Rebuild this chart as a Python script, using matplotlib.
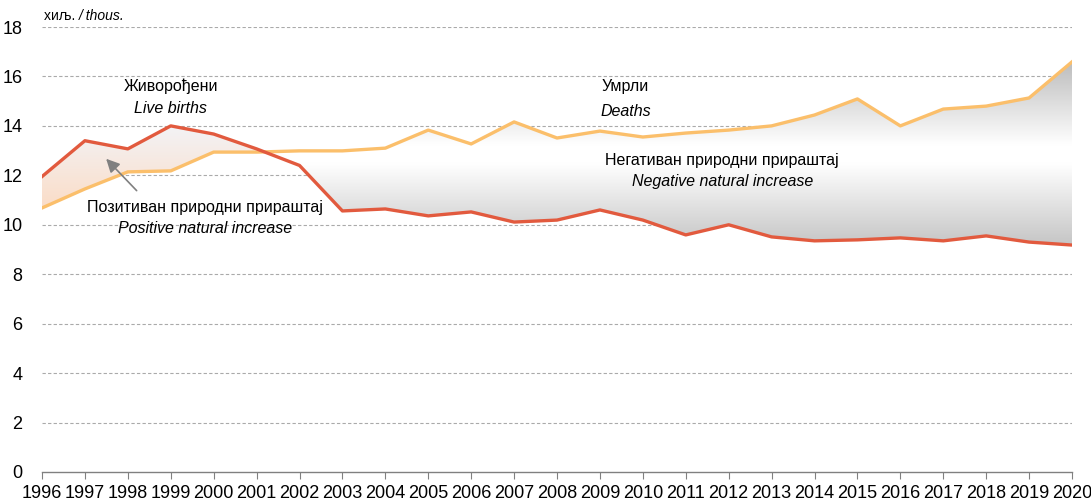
import numpy as np
import matplotlib
matplotlib.use("Agg")
import matplotlib.pyplot as plt
from matplotlib.colors import LinearSegmentedColormap
from matplotlib.patches import PathPatch
from matplotlib.path import Path
from matplotlib.transforms import offset_copy

plt.rcParams['font.family'] = ['Liberation Sans', 'DejaVu Sans']

years = list(range(1996, 2021))
births = [11.95, 13.4, 13.07, 14.0, 13.67, 13.07, 12.4, 10.56, 10.64, 10.36, 10.52, 10.11,
          10.19, 10.6, 10.19, 9.59, 10.0, 9.51, 9.35, 9.39, 9.47, 9.35, 9.55, 9.3, 9.18]
deaths = [10.68, 11.45, 12.14, 12.18, 12.94, 12.94, 12.99, 12.99, 13.1, 13.83, 13.27, 14.16,
          13.51, 13.79, 13.55, 13.71, 13.83, 14.0, 14.44, 15.09, 14.0, 14.68, 14.8, 15.13, 16.59]
yticks = [0, 2, 4, 6, 8, 10, 12, 14, 16, 18]

x = np.array(years, dtype=float)
b = np.array(births)
d = np.array(deaths)

fig = plt.figure(figsize=(10.91, 5.03), dpi=100)
ax = fig.add_axes([42/1091, 31/503, 1030/1091, 445/503])
ax.set_xlim(1996, 2020)
ax.set_ylim(0, 18)

xf = np.linspace(1996, 2020, 2401)
bf = np.interp(xf, x, b)
df = np.interp(xf, x, d)

def grad_fill(mask_pos, stops, y0, y1):
    poly = ax.fill_between(xf, bf, df, where=mask_pos, interpolate=True, color='none', lw=0)
    cmap = LinearSegmentedColormap.from_list('g', stops)
    grad = np.linspace(0, 1, 256).reshape(-1, 1)
    im = ax.imshow(grad, cmap=cmap, aspect='auto', extent=[1996, 2020, y0, y1],
                   origin='lower', zorder=1, interpolation='bicubic')
    paths = poly.get_paths()
    if paths:
        verts = np.concatenate([p.vertices for p in paths])
        codes = np.concatenate([p.codes if p.codes is not None else
                                np.r_[Path.MOVETO, [Path.LINETO]*(len(p.vertices)-1)] for p in paths])
        patch = PathPatch(Path(verts, codes), transform=ax.transData, facecolor='none', edgecolor='none')
        ax.add_patch(patch)
        im.set_clip_path(patch)

grad_fill(bf >= df, [(0.0, '#fbdcc6'), (1.0, '#f3f3f6')], 10.6, 14.0)
grad_fill(df >= bf, [(0.0, '#c4c4c4'), (0.45, '#ffffff'), (0.55, '#ffffff'), (1.0, '#bcbcbc')], 9.1, 16.6)

ax.plot(x, d, color='#fbbf6b', lw=2.4, zorder=4, solid_joinstyle='round')
ax.plot(x, b, color='#e25a3e', lw=2.4, zorder=5, solid_joinstyle='round')

for yv in yticks[1:]:
    ax.axhline(yv, color='#aaaaaa', lw=0.8, ls=(0, (3, 2)), zorder=0)

for s in ['top', 'right', 'left']:
    ax.spines[s].set_visible(False)
ax.spines['bottom'].set_color('#808080')
ax.spines['bottom'].set_linewidth(1.0)
ax.set_xticks(years)
ax.set_xticklabels([str(y) for y in years])
ax.set_yticks(yticks)
ax.tick_params(axis='x', direction='out', length=5, color='#808080', labelsize=13, pad=4)
ax.tick_params(axis='y', length=0, labelsize=13, pad=14)

fs = 11.5
t1 = ax.text(1996.05, 18.15, 'хиљ. ', fontsize=10, ha='left', va='bottom')
fig.canvas.draw()
w = t1.get_window_extent().width
ax.text(1996.05, 18.15, '/ thous.', fontsize=10, ha='left', va='bottom', style='italic',
        transform=offset_copy(ax.transData, fig=fig, x=w, y=0, units='dots'))

ax.text(1999.0, 15.6, 'Живорођени', fontsize=fs, ha='center', va='center')
ax.text(1999.0, 14.72, 'Live births', fontsize=fs, ha='center', va='center', style='italic')
ax.text(2009.6, 15.6, 'Умрли', fontsize=fs, ha='center', va='center')
ax.text(2009.6, 14.6, 'Deaths', fontsize=fs, ha='center', va='center', style='italic')
ax.text(2011.85, 12.6, 'Негативан природни прираштај', fontsize=fs, ha='center', va='center')
ax.text(2011.85, 11.75, 'Negative natural increase', fontsize=fs, ha='center', va='center', style='italic')
ax.text(1999.8, 10.7, 'Позитиван природни прираштај', fontsize=fs, ha='center', va='center')
ax.text(1999.8, 9.85, 'Positive natural increase', fontsize=fs, ha='center', va='center', style='italic')
ax.annotate('', xy=(1997.45, 12.75), xytext=(1998.25, 11.3),
            arrowprops=dict(arrowstyle='-|>', color='#808080', lw=1.2, mutation_scale=20), zorder=6)

fig.savefig('out.png', dpi=100)
